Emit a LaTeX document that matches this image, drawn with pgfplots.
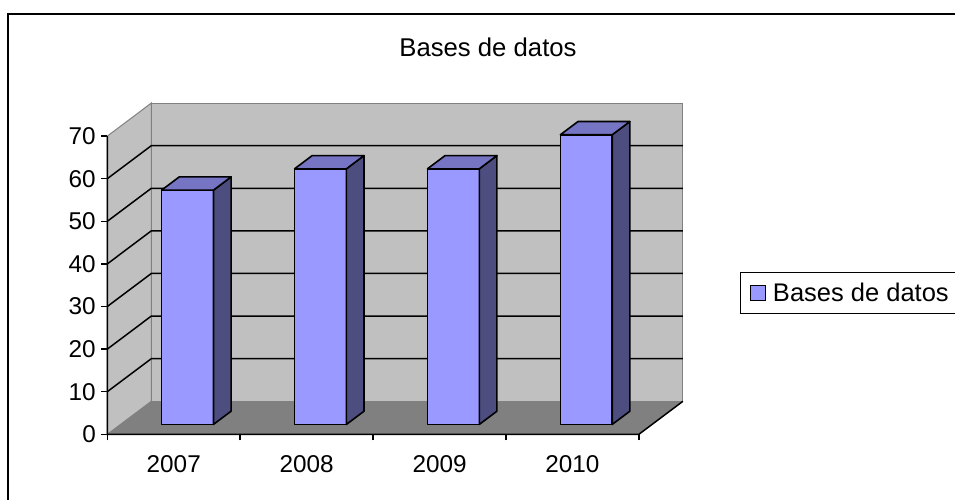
\documentclass[border=0pt]{standalone}
\usepackage{pgfplots}
\pgfplotsset{compat=1.18}
\usepackage{fontspec}
\setmainfont{Liberation Sans}
\definecolor{wall}{HTML}{C0C0C0}
\definecolor{floorc}{HTML}{808080}
\definecolor{edgec}{HTML}{808080}
\definecolor{barfront}{HTML}{9999FF}
\definecolor{bartop}{HTML}{7575C4}
\definecolor{barside}{HTML}{4D4D80}
\begin{document}
\begin{tikzpicture}
\useasboundingbox (0,0) rectangle (955pt,499pt);
\draw[line width=2pt] (8pt,-5pt) -- (8pt,485pt) -- (965pt,485pt);
\begin{axis}[
  x=132.9pt, y=4.26pt,
  xmin=0, xmax=4.331, ymin=0, ymax=77.75,
  at={(107.3pt,64.7pt)}, anchor=south west,
  axis lines*=left, axis line style={draw=none},
  clip=false,
  ytick={0,10,...,70},
  yticklabel style={xshift=-2pt},
  xtick={0,1,2,3,4}, xticklabels={},
  extra x ticks={0.5,1.5,2.5,3.5},
  extra x tick labels={2007,2008,2009,2010},
  extra x tick style={major tick length=0pt, xticklabel style={yshift=-17.5pt}},
  tick align=outside, major tick length=6pt,
  tick style={black, line width=1.5pt},
  /pgf/number format/assume math mode=true,
  ticklabel style={font=\fontsize{24.3}{28}\selectfont},
  title={Bases de datos},
  title style={font=\fontsize{25.7}{30}\selectfont, at={(axis description cs:0.6614,1.124)}, anchor=base},
  legend style={at={(axis description cs:1.0992,0.4266)}, anchor=west, draw=black, line width=1pt,
    font=\fontsize{25.5}{30}\selectfont, inner xsep=10pt, inner ysep=8.5pt},
  legend image code/.code={\draw[#1, line width=1pt] (0pt,-7.5pt) rectangle (15pt,7.5pt); \path[draw=none, fill=none] (15pt,0pt) -- (20pt,0pt);},
]
% walls and floor
\addplot[fill=wall, draw=edgec, line width=1pt, forget plot] coordinates {(0.331,7.75) (4.331,7.75) (4.331,77.75) (0.331,77.75)} --cycle;
\addplot[fill=wall, draw=edgec, line width=1pt, forget plot] coordinates {(0,0) (0.331,7.75) (0.331,77.75) (0,70)} --cycle;
\addplot[fill=floorc, draw=none, forget plot] coordinates {(0,0) (4,0) (4.331,7.75) (0.331,7.75)} --cycle;
% gridlines
\addplot[black, line width=1.5pt, forget plot] coordinates {(0,10) (0.331,17.75) (4.331,17.75)};
\addplot[black, line width=1.5pt, forget plot] coordinates {(0,20) (0.331,27.75) (4.331,27.75)};
\addplot[black, line width=1.5pt, forget plot] coordinates {(0,30) (0.331,37.75) (4.331,37.75)};
\addplot[black, line width=1.5pt, forget plot] coordinates {(0,40) (0.331,47.75) (4.331,47.75)};
\addplot[black, line width=1.5pt, forget plot] coordinates {(0,50) (0.331,57.75) (4.331,57.75)};
\addplot[black, line width=1.5pt, forget plot] coordinates {(0,60) (0.331,67.75) (4.331,67.75)};
% front axis lines
\addplot[black, line width=1.5pt, forget plot] coordinates {(0,70) (0,0) (4,0) (4.331,7.75)};
% bar 2007 = 55
\addplot[fill=barfront, draw=black, line width=1.6pt, line join=round, forget plot] coordinates {(0.4093,2.325) (0.7993,2.325) (0.7993,57.325) (0.4093,57.325)} --cycle;
\addplot[fill=barside, draw=black, line width=1.6pt, line join=round, forget plot] coordinates {(0.7993,2.325) (0.9317,5.425) (0.9317,60.425) (0.7993,57.325)} --cycle;
\addplot[fill=bartop, draw=black, line width=1.6pt, line join=round, forget plot] coordinates {(0.4093,57.325) (0.7993,57.325) (0.9317,60.425) (0.5417,60.425)} --cycle;
% bar 2008 = 60
\addplot[fill=barfront, draw=black, line width=1.6pt, line join=round, forget plot] coordinates {(1.4093,2.325) (1.7993,2.325) (1.7993,62.325) (1.4093,62.325)} --cycle;
\addplot[fill=barside, draw=black, line width=1.6pt, line join=round, forget plot] coordinates {(1.7993,2.325) (1.9317,5.425) (1.9317,65.425) (1.7993,62.325)} --cycle;
\addplot[fill=bartop, draw=black, line width=1.6pt, line join=round, forget plot] coordinates {(1.4093,62.325) (1.7993,62.325) (1.9317,65.425) (1.5417,65.425)} --cycle;
% bar 2009 = 60
\addplot[fill=barfront, draw=black, line width=1.6pt, line join=round, forget plot] coordinates {(2.4093,2.325) (2.7993,2.325) (2.7993,62.325) (2.4093,62.325)} --cycle;
\addplot[fill=barside, draw=black, line width=1.6pt, line join=round, forget plot] coordinates {(2.7993,2.325) (2.9317,5.425) (2.9317,65.425) (2.7993,62.325)} --cycle;
\addplot[fill=bartop, draw=black, line width=1.6pt, line join=round, forget plot] coordinates {(2.4093,62.325) (2.7993,62.325) (2.9317,65.425) (2.5417,65.425)} --cycle;
% bar 2010 = 68
\addplot[fill=barfront, draw=black, line width=1.6pt, line join=round, forget plot] coordinates {(3.4093,2.325) (3.7993,2.325) (3.7993,70.325) (3.4093,70.325)} --cycle;
\addplot[fill=barside, draw=black, line width=1.6pt, line join=round, forget plot] coordinates {(3.7993,2.325) (3.9317,5.425) (3.9317,73.425) (3.7993,70.325)} --cycle;
\addplot[fill=bartop, draw=black, line width=1.6pt, line join=round, forget plot] coordinates {(3.4093,70.325) (3.7993,70.325) (3.9317,73.425) (3.5417,73.425)} --cycle;
\addlegendimage{fill=barfront, draw=black}
\addlegendentry{Bases de datos}
\end{axis}
\end{tikzpicture}
\end{document}
